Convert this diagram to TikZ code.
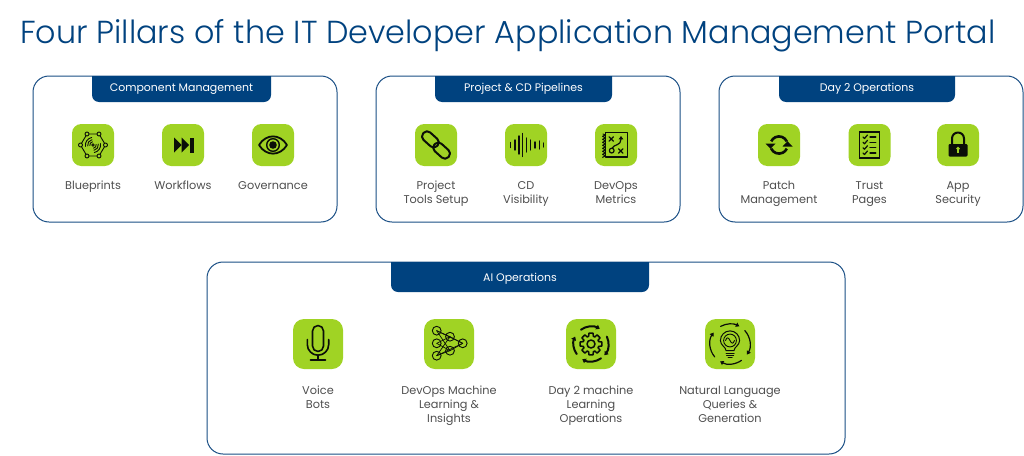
\documentclass[tikz,border=0pt]{standalone}
\usepackage{fontspec}
\setmainfont{Poppins}[UprightFont=* Light]
\newfontfamily\regfont{Poppins}
\usetikzlibrary{arrows.meta}
\definecolor{navy}{HTML}{00427F}
\definecolor{framecol}{HTML}{1A4F85}
\definecolor{leaf}{HTML}{A0D324}
\definecolor{captioncol}{HTML}{4F4F4F}
\definecolor{inkcol}{HTML}{0B0F08}
\tikzset{
  frame/.style={draw=framecol,line width=1pt,fill=white,rounded corners=16pt},
  tabshape/.style={fill=navy},
  tabtext/.style={text=white,font=\regfont\fontsize{10.95}{14}\selectfont,inner sep=0pt,anchor=base},
  iconbox/.style={fill=leaf,rounded corners=#1,inner sep=0pt,draw=none},
  caption/.style={text=captioncol,font=\regfont\fontsize{11.3}{14}\selectfont,align=center,anchor=north,inner sep=0pt},
  ink/.style={draw=inkcol,line width=#1,line cap=round,line join=round},
  ink/.default=1pt,
  solidink/.style={fill=inkcol,draw=none},
  titletext/.style={text=navy,font=\fontsize{31.8}{36}\selectfont,anchor=base west,inner sep=0pt}
}
% one rounded panel with its heading tab: x1,x2,y1,y2,tab x1,tab x2,tab bottom,name,heading
\newcommand{\panel}[9]{%
  \path[frame] (#1,#3) rectangle (#2,#4);
  \path[tabshape,rounded corners=7pt] (#5,#3+8) -- (#5,#7) -- (#6,#7) -- (#6,#3+8) [sharp corners] -- (#6,#3) -- (#5,#3) -- cycle;
  \node[tabtext] (#8) at ({(#5+#6)/2},{#7-10.5}) {#9};
}
% one icon tile with its caption: name,x,y,size,caption y,caption,glyph
\newcommand{\tile}[7]{%
  \node[iconbox=#4*0.22pt,minimum size=#4pt] (#1) at (#2,#3) {};
  \begin{scope}[shift={(#1.center)}] #7 \end{scope}
  \node[caption] (#1-cap) at (#2,#5) {\rule{0pt}{11pt}#6};
}
\newcommand{\cross}[3]{\draw[ink=#3] (#1-2.2,#2-2.2) -- (#1+2.2,#2+2.2) (#1-2.2,#2+2.2) -- (#1+2.2,#2-2.2);}
\newcommand{\glyphBlueprints}{%
  \draw[ink=0.9pt] (-6,-11) -- (6,-11) -- (12.5,0) -- (6,11) -- (-6,11) -- (-12.5,0) -- cycle;
  \foreach \p in {(-6,-11),(6,-11),(12.5,0),(6,11),(-6,11),(-12.5,0)} \draw[ink=0.9pt,fill=leaf] \p circle (2);
  \foreach \r in {3.2,5.4,7.6} {
    \draw[ink=0.9pt] (170:\r) arc[start angle=170,end angle=260,radius=\r];
    \draw[ink=0.9pt] (-10:\r) arc[start angle=-10,end angle=80,radius=\r];
  }
  \draw[ink=0.9pt] (0,0) circle (1.2);
}
\newcommand{\glyphWorkflows}{%
  \fill[solidink] (-9,-7.5) -- (-1.5,0) -- (-9,7.5) -- cycle;
  \fill[solidink] (-1.5,-7.5) -- (6,0) -- (-1.5,7.5) -- cycle;
  \fill[solidink] (7.2,-7.5) rectangle (11,7.5);
}
\newcommand{\glyphEye}{%
  \draw[ink=1.8pt] (-14,0) .. controls (-7,-11.5) and (7,-11.5) .. (14,0) .. controls (7,11.5) and (-7,11.5) .. (-14,0) -- cycle;
  \draw[ink=1.4pt] (0,0) circle (6.3);
  \fill[solidink] (0,0) circle (3.8);
}
\newcommand{\glyphLink}{%
  \draw[ink=2pt,rotate around={-42:(-5.6,-5.6)},rounded corners=4.6pt] (-15,-10.6) rectangle (3.8,-0.6);
  \draw[ink=2pt,rotate around={-42:(5.6,5.6)},rounded corners=4.6pt] (-3.8,0.6) rectangle (15,10.6);
}
\newcommand{\glyphWave}{%
  \foreach \x/\h in {-15.3/2.5,-11/5,-7/9,-3.3/11.5,0.7/7,4.7/5,9/3,13.3/4,17.3/2}
    \draw[ink=1.4pt] (\x,-\h) -- (\x,\h);
}
\newcommand{\glyphPlaybook}{%
  \draw[ink=1.4pt] (-10.5,-12.5) rectangle (11.5,12);
  \draw[ink=1pt] (-13,-11) \foreach \i in {0,...,7} { -- (-10.5,-10+\i*3) -- (-13.5,-8.7+\i*3) } ;
  \cross{-4.7}{-6}{1.3pt}
  \cross{4.7}{6}{1.3pt}
  \draw[ink=1.2pt] (-4.3,5.6) circle (2.4);
  \draw[ink=1.2pt,-{Triangle[length=3.4pt,width=4.6pt]}] (-3.5,2.8) .. controls (-2,-0.8) and (5,0.8) .. (5,-9);
}
\newcommand{\glyphSync}{%
  \draw[ink=2.6pt,line cap=butt] (335:8.6) arc[start angle=335,end angle=205,radius=8.6];
  \fill[solidink] (-13.5,-1.5) -- (-3.5,-1.5) -- (-8.5,3.8) -- cycle;
  \draw[ink=2.6pt,line cap=butt] (155:8.6) arc[start angle=155,end angle=25,radius=8.6];
  \fill[solidink] (13.5,1.5) -- (3.5,1.5) -- (8.5,-3.8) -- cycle;
}
\newcommand{\glyphChecklist}{%
  \draw[ink=1.6pt,line join=miter] (-10,-13) rectangle (10,13);
  \foreach \y in {-8,-2.7,2.7,8} {
    \draw[ink=1.2pt] (-6.5,\y) -- (-5,\y+1.5) -- (-2,\y-2);
    \draw[ink=1.2pt] (0.5,\y) -- (6.3,\y);
  }
}
\newcommand{\glyphLock}{%
  \draw[ink=2pt,line cap=butt] (-6,0) -- (-6,-6.5) arc[start angle=180,end angle=360,radius=6] -- (6,0);
  \fill[solidink,rounded corners=1.2pt] (-9.5,-1) rectangle (9.5,11.5);
  \fill[leaf] (0,3.6) circle (1.9);
  \fill[leaf] (-0.9,4) rectangle (0.9,8);
}
\newcommand{\glyphMic}{%
  \draw[ink=1.6pt] (-5.5,-13) arc[start angle=180,end angle=360,radius=5.5] -- (5.5,2) arc[start angle=0,end angle=180,radius=5.5] -- cycle;
  \draw[ink=1.6pt] (-10.7,-4.5) -- (-10.7,0.5) arc[start angle=180,end angle=0,radius=10.7] -- (10.7,-4.5);
  \draw[ink=1.6pt] (0,11) -- (0,16);
  \draw[ink=1.6pt] (-7.5,16) -- (7.5,16);
}
\newcommand{\glyphNetwork}{%
  \foreach \a/\b in {-12.3/-13.3,-12.3/-0.7,-12.3/11.7} {
    \foreach \c in {-7.3,6.7} \draw[ink=0.7pt] (\a,\b) -- (1,\c);
  }
  \foreach \c in {-7.3,6.7} \draw[ink=0.7pt] (1,\c) -- (13.7,-0.7);
  \draw[ink=0.7pt] (-12.3,-13.3) -- (13.7,-0.7);
  \draw[ink=0.7pt] (-12.3,11.7) -- (13.7,-0.7);
  \foreach \p in {(-12.3,-13.3),(-12.3,-0.7),(-12.3,11.7),(1,-7.3),(1,6.7),(13.7,-0.7)}
    \draw[ink=0.9pt] \p circle (4.4);
}
\newcommand{\glyphGear}{%
  \draw[ink=1.5pt] (-11:11)
    \foreach \a in {0,45,...,315} { -- (\a-11:11) -- (\a+11:11) -- (\a+17:8) -- (\a+28:8) } -- cycle;
  \draw[ink=1.5pt] (0,0) circle (4);
  \foreach \s/\e in {-125/-60,-25/40,55/120,145/205}
    \draw[ink=2pt,-{Triangle[length=3.6pt,width=5pt]}] (\s:17.5) arc[start angle=\s,end angle=\e,radius=17.5];
}
\newcommand{\glyphBulb}{%
  \draw[ink=1pt] (-4,6.6) .. controls (-4,3) and (-9.6,1.5) .. (-9.6,-3.5) arc[start angle=180,end angle=360,radius=9.6] .. controls (9.6,1.5) and (4,3) .. (4,6.6) -- cycle;
  \draw[ink=0.9pt] (0,-3.5) circle (6.4);
  \draw[ink=0.9pt] (-4.5,-3.5) .. controls (-3,-7.5) and (-1.5,-6.5) .. (0,-3.5) .. controls (1.5,-0.5) and (3,0.5) .. (4.5,-3.5);
  \draw[ink=1pt] (-4,9) -- (4,9) (-3.5,11.3) -- (3.5,11.3) (-2,13.3) -- (2,13.3);
  \foreach \s/\e in {-118/-62,-42/32,55/120,140/215}
    \draw[ink=1.2pt,-{Triangle[length=3.6pt,width=4.4pt]}] (\s:20) arc[start angle=\s,end angle=\e,radius=20];
}
\begin{document}
\begin{tikzpicture}[x=1pt,y=-1pt]
\useasboundingbox (0,0) rectangle (1024,455);
\fill[white] (0,0) rectangle (1024,455);
\node[titletext] (title) at (20,43) {Four Pillars of the IT Developer Application Management Portal};

% upper row of panels
\panel{33}{337}{76}{222}{92}{271}{102}{headA}{Component Management}
\tile{blueprints}{93}{145}{42}{178}{Blueprints}{\glyphBlueprints}
\tile{workflows}{183}{145}{42}{178}{Workflows}{\glyphWorkflows}
\tile{governance}{273}{145}{42}{178}{Governance}{\glyphEye}

\panel{376}{680}{76}{222}{435}{612}{102}{headB}{Project \& CD Pipelines}
\tile{tools}{436}{145}{42}{178}{Project\\Tools Setup}{\glyphLink}
\tile{visibility}{526}{145}{42}{178}{CD\\Visibility}{\glyphWave}
\tile{metrics}{616}{145}{42}{178}{DevOps\\Metrics}{\glyphPlaybook}

\panel{719}{1023}{76}{222}{779}{955}{102}{headC}{Day 2 Operations}
\tile{patch}{779}{145}{42}{178}{Patch\\Management}{\glyphSync}
\tile{trust}{869.5}{145}{42}{178}{Trust\\Pages}{\glyphChecklist}
\tile{security}{958}{145}{42}{178}{App\\Security}{\glyphLock}

% lower panel
\panel{207}{845}{262}{454}{391}{649}{292}{headD}{AI Operations}
\tile{voice}{318}{344}{50}{383.5}{Voice\\Bots}{\glyphMic}
\tile{insights}{449}{344}{50}{383.5}{DevOps Machine\\Learning \&\\Insights}{\glyphNetwork}
\tile{dayml}{591}{344}{50}{383.5}{Day 2 machine\\Learning\\Operations}{\glyphGear}
\tile{language}{730}{344}{50}{383.5}{Natural Language\\Queries \&\\Generation}{\glyphBulb}
\end{tikzpicture}
\end{document}
